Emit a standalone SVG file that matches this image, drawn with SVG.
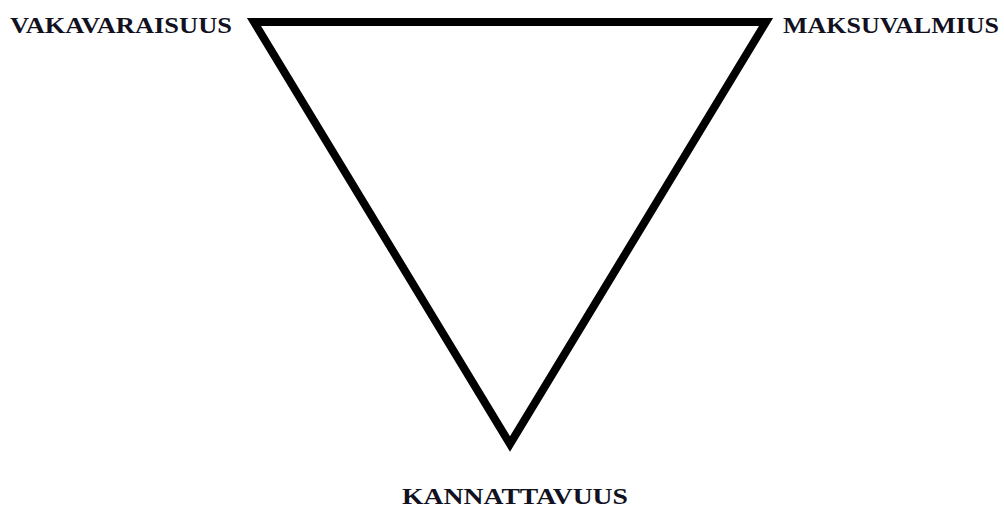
<svg xmlns="http://www.w3.org/2000/svg" width="1004" height="509" viewBox="0 0 1004 509">
  <style>
    .lbl { font-family: "Liberation Serif", "Times New Roman", serif; font-weight: bold; font-size: 23px; fill: #111122; }
    .edge { fill: none; stroke: #000; stroke-width: 8; stroke-linejoin: miter; stroke-miterlimit: 10; }
  </style>
  <rect width="1004" height="509" fill="#fff"/>
  <g id="connectors">
    <polygon class="edge" points="254,22 766,22 510,444"/>
  </g>
  <g id="node-vakavaraisuus">
    <text class="lbl" x="10" y="33" textLength="222" lengthAdjust="spacingAndGlyphs">VAKAVARAISUUS</text>
  </g>
  <g id="node-maksuvalmius">
    <text class="lbl" x="783" y="33" textLength="216" lengthAdjust="spacingAndGlyphs">MAKSUVALMIUS</text>
  </g>
  <g id="node-kannattavuus">
    <text class="lbl" x="402" y="504" textLength="226" lengthAdjust="spacingAndGlyphs">KANNATTAVUUS</text>
  </g>
</svg>
